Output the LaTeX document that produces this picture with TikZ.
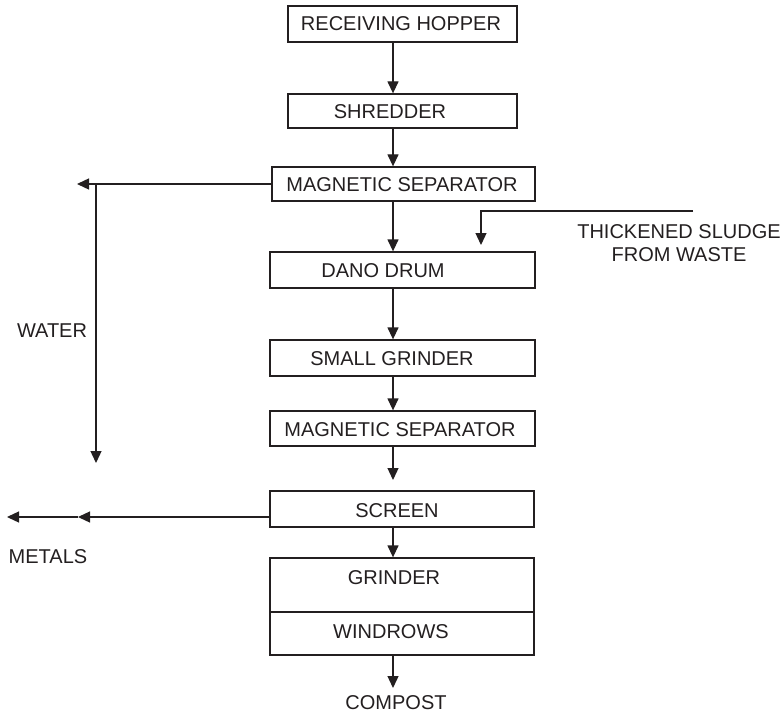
\documentclass[tikz,border=0pt]{standalone}
\usepackage{fontspec}
\setmainfont{Liberation Sans}
\usetikzlibrary{arrows.meta}
\definecolor{ink}{HTML}{231F20}
\begin{document}
\begin{tikzpicture}[x=1pt,y=-1pt,
  box/.style={draw=ink, rectangle, inner sep=0pt, line width=1.3pt},
  lbl/.style={text=ink, inner sep=0pt, font=\fontsize{20}{23}\selectfont},
  flow/.style={draw=ink, line width=1.3pt, -{Triangle[length=12pt,width=11pt]}},
  plain/.style={draw=ink, line width=1.3pt}]
\useasboundingbox (0,0) rectangle (783,714);

% process boxes
\node[box, minimum width=229pt, minimum height=36pt] (rh)   at (402.5,24)  {};
\node[box, minimum width=229pt, minimum height=34pt] (sh)   at (402.5,111) {};
\node[box, minimum width=263pt, minimum height=34pt] (ms1)  at (403.5,184) {};
\node[box, minimum width=265pt, minimum height=36pt] (dano) at (402.5,270) {};
\node[box, minimum width=265pt, minimum height=36pt] (sg)   at (402.5,358) {};
\node[box, minimum width=265pt, minimum height=35pt] (ms2)  at (402.5,428.5) {};
\node[box, minimum width=264pt, minimum height=36pt] (scr)  at (402,509) {};
\node[box, minimum width=264pt, minimum height=54pt] (grd)  at (402,585) {};
\node[box, minimum width=264pt, minimum height=43pt] (win)  at (402,633.5) {};

% box captions
\node[lbl] (t-rh)   at (401,24)  {RECEIVING HOPPER};
\node[lbl] (t-sh)   at (390,112) {SHREDDER};
\node[lbl] (t-ms1)  at (402,185) {MAGNETIC SEPARATOR};
\node[lbl] (t-dano) at (383,271) {DANO DRUM};
\node[lbl] (t-sg)   at (392,359) {SMALL GRINDER};
\node[lbl] (t-ms2)  at (400,430) {MAGNETIC SEPARATOR};
\node[lbl] (t-scr)  at (397,511) {SCREEN};
\node[lbl] (t-grd)  at (394,578) {GRINDER};
\node[lbl] (t-win)  at (391,632) {WINDROWS};

% free labels
\node[lbl] (water)   at (52,331)  {WATER};
\node[lbl] (metals)  at (48,557)  {METALS};
\node[lbl] (compost) at (396,703) {COMPOST};
\node[lbl, align=center] (sludge) at (679,243) {THICKENED SLUDGE\\FROM WASTE};

% main flow line
\coordinate (xa) at (393,0);
\coordinate (e-ms2) at (393,480);
\coordinate (e-win) at (393,688);
\draw[flow] (rh.south -| xa)   -- (sh.north -| xa);
\draw[flow] (sh.south -| xa)   -- (ms1.north -| xa);
\draw[flow] (ms1.south -| xa)  -- (dano.north -| xa);
\draw[flow] (dano.south -| xa) -- (sg.north -| xa);
\draw[flow] (sg.south -| xa)   -- (ms2.north -| xa);
\draw[flow] (ms2.south -| xa)  -- (e-ms2);
\draw[flow] (scr.south -| xa)  -- (grd.north -| xa);
\draw[flow] (win.south -| xa)  -- (e-win);

% water branch
\coordinate (w-tip) at (77,184);
\coordinate (w-top) at (96,184);
\coordinate (w-end) at (96,463);
\draw[flow] (ms1.west) -- (w-tip);
\draw[flow] (w-top) -- (w-end);

% sludge feed
\coordinate (s0) at (693,211);
\coordinate (s1) at (481,211);
\coordinate (s2) at (481,245);
\draw[flow] (s0) -- (s1) -- (s2);

% metals outlet
\coordinate (m1) at (78,517);
\coordinate (m2) at (7,517);
\draw[flow] ([yshift=-8pt]scr.west) -- (m1);
\draw[flow] (m1) -- (m2);
\end{tikzpicture}
\end{document}
